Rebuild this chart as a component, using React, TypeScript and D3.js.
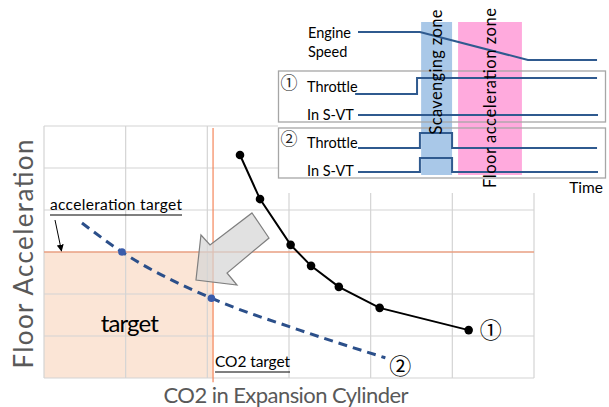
import React from "react";
import * as d3 from "d3";

// ---------- data ----------
const GRID_X = [0, 1, 2, 3, 4, 5, 6];
const GRID_Y = [0, 1, 2, 3, 4, 5, 6];

// curve ① (current)
const curve1X = [2.4, 2.645, 3.02, 3.27, 3.61, 4.11, 5.2];
const curve1Y = [5.31, 4.26, 3.17, 2.67, 2.17, 1.67, 1.14];

// curve ② (proposed, dashed)
const curve2X = [0.465, 0.955, 2.05, 3.13, 4.18];
const curve2Y = [3.69, 3.0, 1.9, 1.14, 0.48];
const curve2MarkX = [0.955, 2.05];
const curve2MarkY = [3.0, 1.9];

const accelTarget = 3.0;
const co2Target = 2.07;

// block arrow (data units)
const arrowX = [2.547, 2.755, 2.241, 2.363, 1.861, 1.922, 2.033];
const arrowY = [3.929, 3.333, 2.5, 2.214, 2.333, 3.405, 3.167];

// inset time chart
const engineT = [0, 25.8, 70.8, 99.6];
const engineL = [1, 1, 0, 0];
const thr1T = [-1.2, 24.6, 24.6, 99.6];
const thr1L = [0, 0, 1, 1];
const svt1T = [0, 100];
const svt1L = [0, 0];
const thr2T = [0, 25.8, 25.8, 39.2, 39.2, 99.6];
const thr2L = [0, 0, 1, 1, 0, 0];
const svt2T = [0, 25.8, 25.8, 39.2, 39.2, 100];
const svt2L = [0, 0, 1, 1, 0, 0];
const scavZone = [26.3, 39.2];
const floorZone = [41.7, 68.3];

// ---------- layout ----------
const W = 609;
const H = 407;
const FONT = "Lato, 'Open Sans', sans-serif";
const CJK = "'Noto Sans CJK JP', 'DejaVu Sans', sans-serif";

export default function App() {
  const x = d3.scaleLinear().domain([0, 6]).range([44, 534]);
  const y = d3.scaleLinear().domain([0, 6]).range([378, 126]);

  const t = d3.scaleLinear().domain([0, 100]).range([358, 598]);
  const rowEngine = d3.scaleLinear().domain([0, 1]).range([60, 32]);
  const rowThr1 = d3.scaleLinear().domain([0, 1]).range([94, 78]);
  const rowSvt1 = d3.scaleLinear().domain([0, 1]).range([115, 100]);
  const rowThr2 = d3.scaleLinear().domain([0, 1]).range([148, 133]);
  const rowSvt2 = d3.scaleLinear().domain([0, 1]).range([172, 158]);

  const line1 = d3
    .line<number>()
    .x((_, i) => x(curve1X[i]))
    .y((d) => y(d));
  const line2 = d3
    .line<number>()
    .x((_, i) => x(curve2X[i]))
    .y((d) => y(d))
    .curve(d3.curveMonotoneX);

  const sig = (T: number[], L: number[], row: d3.ScaleLinear<number, number>) =>
    d3
      .line<number>()
      .x((_, i) => t(T[i]))
      .y((d) => row(d))(L) as string;

  const arrowPts = arrowX.map((v, i) => `${x(v)},${y(arrowY[i])}`).join(" ");

  const gridColor = "#d4d4d4";
  const orange = "#f4865a";
  const sigColor = "#2f5a8f";

  return (
    <svg
      width={W}
      height={H}
      style={{ position: "absolute", left: 0, top: 0, background: "#fff" }}
      fontFamily={FONT}
    >
      {/* target area */}
      <rect
        x={x(0)}
        y={y(accelTarget)}
        width={x(co2Target) - x(0)}
        height={y(0) - y(accelTarget)}
        fill="#fbe5d6"
      />
      {/* grid */}
      {GRID_X.map((g) => (
        <line key={"gx" + g} x1={x(g)} x2={x(g)} y1={y(0)} y2={y(6)} stroke={gridColor} strokeWidth={1.2} />
      ))}
      {GRID_Y.map((g) => (
        <line key={"gy" + g} x1={x(0)} x2={x(6)} y1={y(g)} y2={y(g)} stroke={gridColor} strokeWidth={1.2} />
      ))}
      {/* target lines */}
      <line x1={x(0)} x2={x(6)} y1={y(accelTarget)} y2={y(accelTarget)} stroke={orange} strokeWidth={1.2} />
      <line x1={x(co2Target)} x2={x(co2Target)} y1={y(5.95)} y2={y(-0.1)} stroke={orange} strokeWidth={1.2} />

      {/* big arrow */}
      <polygon points={arrowPts} fill="#d6d6d6" fillOpacity={0.72} stroke="#7f7f7f" strokeWidth={1.2} />

      {/* curve ② */}
      <path d={line2(curve2Y) as string} fill="none" stroke="#2b4f8a" strokeWidth={3} strokeDasharray="9,6" />
      {curve2MarkX.map((v, i) => (
        <circle key={"m2" + i} cx={x(v)} cy={y(curve2MarkY[i])} r={3.8} fill="#3a5cab" />
      ))}
      {/* curve ① */}
      <path d={line1(curve1Y) as string} fill="none" stroke="#000" strokeWidth={2} />
      {curve1X.map((v, i) => (
        <circle key={"m1" + i} cx={x(v)} cy={y(curve1Y[i])} r={4.3} fill="#000" />
      ))}
      <text x={x(5.2) + 22} y={y(1.14) + 8} fontFamily={CJK} fontSize={22} textAnchor="middle" fill="#000">
        ①
      </text>
      <text x={x(4.18) + 15} y={y(0.48) + 16} fontFamily={CJK} fontSize={22} textAnchor="middle" fill="#000">
        ②
      </text>

      {/* annotations */}
      <text x={x(1.05)} y={332} fontSize={24} textAnchor="middle" fill="#000" textLength={58}>
        target
      </text>
      <text x={50} y={210} fontSize={15.5} fill="#000" textLength={132}>acceleration target</text>
      <line x1={50} x2={182} y1={215} y2={215} stroke="#000" strokeWidth={1} />
      <defs>
        <marker id="ah" viewBox="0 0 10 10" refX={9} refY={5} markerWidth={7} markerHeight={7} orient="auto">
          <path d="M0,0 L10,5 L0,10 z" fill="#000" />
        </marker>
      </defs>
      <line x1={55} y1={220} x2={61.5} y2={y(accelTarget) - 1} stroke="#000" strokeWidth={1} markerEnd="url(#ah)" />
      <text x={x(co2Target) + 2} y={367} fontSize={15.5} fill="#000" textLength={75}>CO2 target</text>
      <line x1={x(co2Target) + 2} x2={290} y1={372} y2={372} stroke="#000" strokeWidth={1} />

      {/* axis titles */}
      <text
        transform={`translate(33,${(y(0) + y(6)) / 2 + 2}) rotate(-90)`}
        textAnchor="middle"
        fontSize={26}
        fill="#595959"
        textLength={229}
      >
        Floor Acceleration
      </text>
      <text x={286} y={403} textAnchor="middle" fontSize={22} fill="#595959" textLength={245}>
        CO2 in Expansion Cylinder
      </text>

      {/* ---------- inset ---------- */}
      <rect x={278} y={0} width={W - 278} height={193} fill="#fff" />
      <rect x={t(scavZone[0])} y={22} width={t(scavZone[1]) - t(scavZone[0])} height={153} fill="#a9c8e8" />
      <rect x={t(floorZone[0])} y={22} width={t(floorZone[1]) - t(floorZone[0])} height={153} fill="#ffaadd" />
      <rect x={278.5} y={71} width={327} height={51} fill="none" stroke="#a6a6a6" strokeWidth={1.3} />
      <rect x={278.5} y={128} width={327} height={50} fill="none" stroke="#a6a6a6" strokeWidth={1.3} />

      <path d={sig(engineT, engineL, rowEngine)} fill="none" stroke={sigColor} strokeWidth={2} />
      <path d={sig(thr1T, thr1L, rowThr1)} fill="none" stroke={sigColor} strokeWidth={2} />
      <path d={sig(svt1T, svt1L, rowSvt1)} fill="none" stroke={sigColor} strokeWidth={2} />
      <path d={sig(thr2T, thr2L, rowThr2)} fill="none" stroke={sigColor} strokeWidth={2} />
      <path d={sig(svt2T, svt2L, rowSvt2)} fill="none" stroke={sigColor} strokeWidth={2} />

      <g fontSize={14.5} fill="#000">
        <text x={308} y={38}>Engine</text>
        <text x={308} y={57}>Speed</text>
        <text x={307} y={92}>Throttle</text>
        <text x={307} y={120}>In S-VT</text>
        <text x={307} y={148}>Throttle</text>
        <text x={307} y={176}>In S-VT</text>
        <text x={603} y={193} textAnchor="end" fontSize={15.5}>Time</text>
      </g>
      <text x={289} y={89} fontFamily={CJK} fontSize={17} textAnchor="middle" fill="#222">①</text>
      <text x={289} y={145} fontFamily={CJK} fontSize={17} textAnchor="middle" fill="#222">②</text>

      <text
        transform={`translate(${(t(scavZone[0]) + t(scavZone[1])) / 2 + 5},72) rotate(-90)`}
        textAnchor="middle"
        fontSize={16.5}
        fill="#000"
        textLength={125}
      >
        Scavenging zone
      </text>
      <text
        transform={`translate(${(t(floorZone[0]) + t(floorZone[1])) / 2 + 6},98) rotate(-90)`}
        textAnchor="middle"
        fontSize={16.5}
        fill="#000"
        textLength={180}
      >
        Floor acceleration zone
      </text>
    </svg>
  );
}
